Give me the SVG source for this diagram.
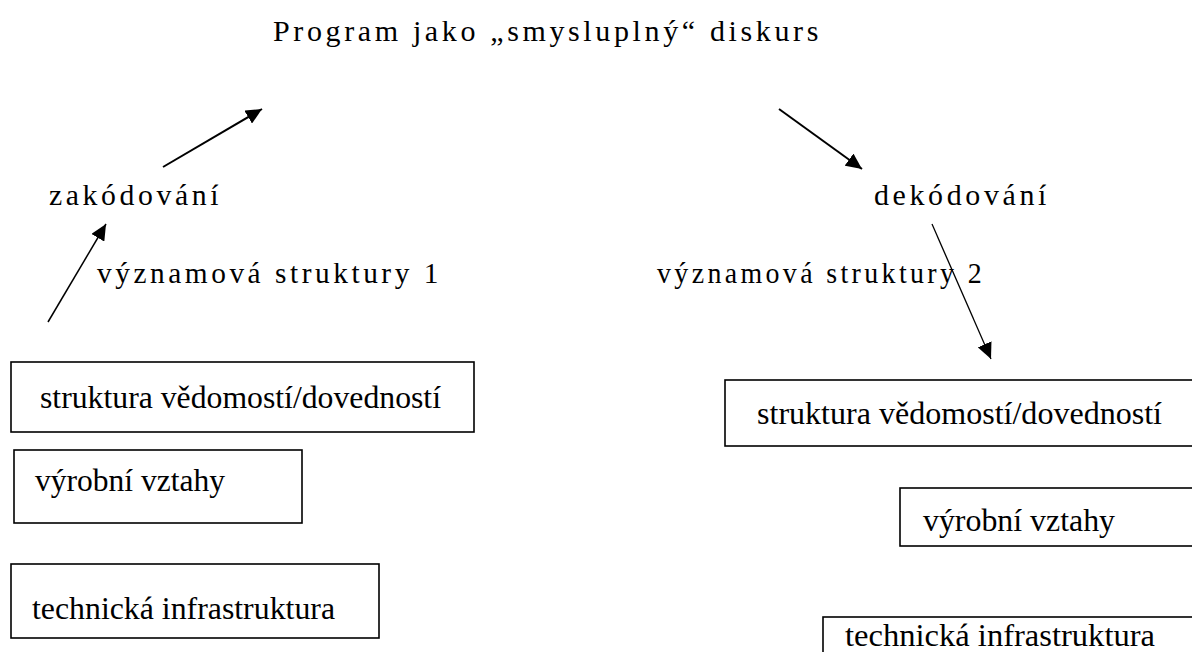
<svg xmlns="http://www.w3.org/2000/svg" width="1192" height="652" viewBox="0 0 1192 652">
<style>
text{font-family:"Liberation Serif","Times New Roman",Tinos,"DejaVu Serif",serif;fill:#000}
.sp{font-size:29px;letter-spacing:3.5px}
.bx{font-size:32px}
.box{fill:#fff;stroke:#000;stroke-width:1.6}
.ln{stroke:#000;fill:none}
</style>
<defs>
<marker id="ah" markerUnits="userSpaceOnUse" markerWidth="17" markerHeight="15" refX="16" refY="7.5" orient="auto">
<path d="M0,0 L16,7.5 L0,15 Z" fill="#000"/>
</marker>
</defs>
<rect width="1192" height="652" fill="#fff"/>
<g id="title"><text class="sp" x="273" y="41" textLength="549" lengthAdjust="spacingAndGlyphs">Program jako „smysluplný“ diskurs</text></g>
<g id="zakodovani"><text class="sp" x="49" y="205" textLength="173" lengthAdjust="spacingAndGlyphs">zakódování</text></g>
<g id="dekodovani"><text class="sp" x="874" y="205" textLength="176" lengthAdjust="spacingAndGlyphs">dekódování</text></g>
<g id="vyznam1"><text class="sp" x="97" y="283" textLength="345" lengthAdjust="spacingAndGlyphs">významová struktury 1</text></g>
<g id="vyznam2"><text class="sp" x="657" y="283" textLength="328" lengthAdjust="spacingAndGlyphs">významová struktury 2</text></g>
<g id="L1"><rect class="box" x="11" y="362" width="463" height="70"/><text class="bx" x="40" y="408" textLength="401" lengthAdjust="spacingAndGlyphs">struktura vědomostí/dovedností</text></g>
<g id="L2"><rect class="box" x="14" y="450" width="288" height="73"/><text class="bx" x="35" y="491" textLength="190" lengthAdjust="spacingAndGlyphs">výrobní vztahy</text></g>
<g id="L3"><rect class="box" x="11" y="564" width="368" height="74"/><text class="bx" x="32" y="619" textLength="303" lengthAdjust="spacingAndGlyphs">technická infrastruktura</text></g>
<g id="R1"><rect class="box" x="725" y="380" width="470" height="66"/><text class="bx" x="757" y="424" textLength="405" lengthAdjust="spacingAndGlyphs">struktura vědomostí/dovedností</text></g>
<g id="R2"><rect class="box" x="900" y="488" width="295" height="58"/><text class="bx" x="923" y="531" textLength="192" lengthAdjust="spacingAndGlyphs">výrobní vztahy</text></g>
<g id="R3"><rect class="box" x="823" y="617" width="372" height="40"/><text class="bx" x="845" y="646" textLength="310" lengthAdjust="spacingAndGlyphs">technická infrastruktura</text></g>
<g id="connectors">
<line class="ln" x1="163" y1="167" x2="262" y2="109" stroke-width="2" marker-end="url(#ah)"/>
<line class="ln" x1="779" y1="109" x2="862" y2="169" stroke-width="2" marker-end="url(#ah)"/>
<line class="ln" x1="48" y1="322" x2="106" y2="224" stroke-width="1.5" marker-end="url(#ah)"/>
<line class="ln" x1="932" y1="224" x2="991" y2="359" stroke-width="1.3" marker-end="url(#ah)"/>
</g>
</svg>
